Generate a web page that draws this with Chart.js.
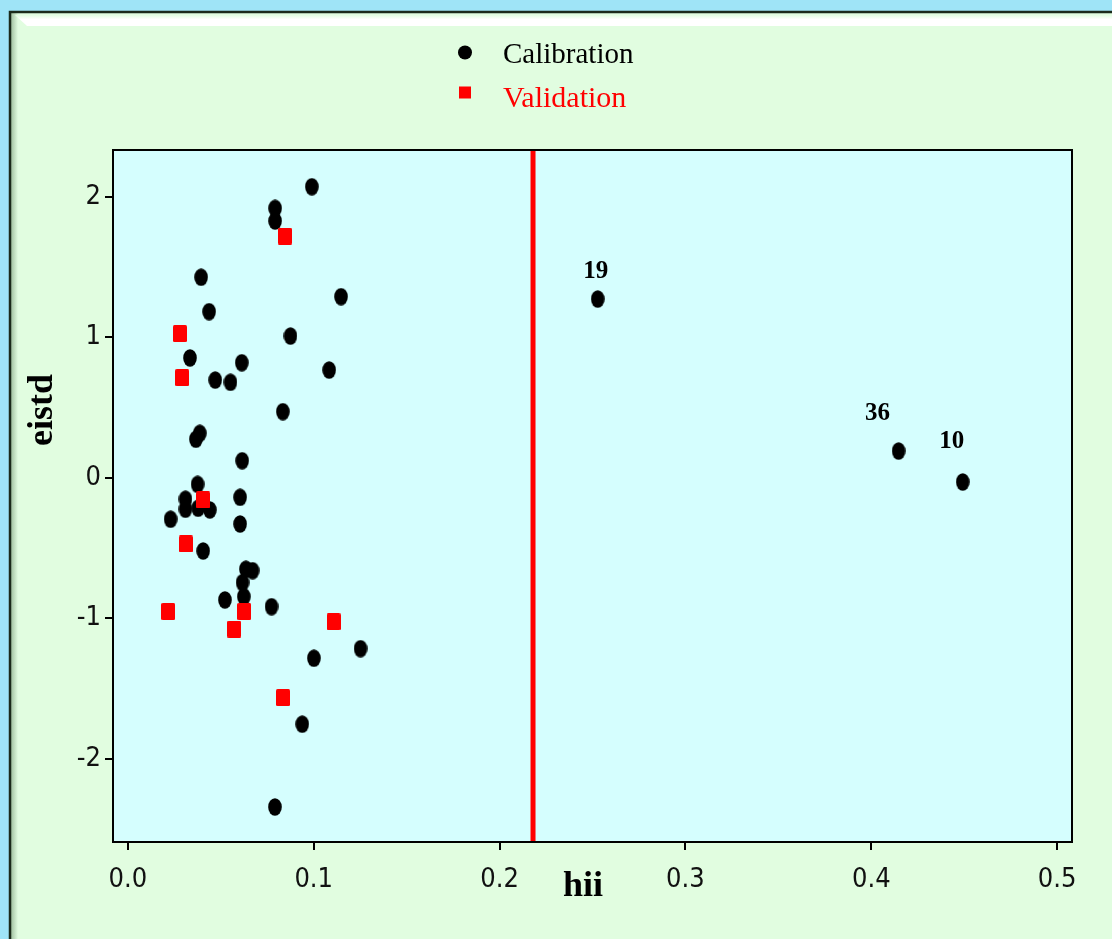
<!DOCTYPE html>
<html><head><meta charset="utf-8">
<script src="https://cdn.jsdelivr.net/npm/chart.js@4.4.1/dist/chart.umd.min.js"></script>
<style>html,body{margin:0;padding:0;background:#9fe4f7;overflow:hidden}canvas{display:block}</style>
</head><body><canvas id="c" width="1112" height="939"></canvas>
<script>
// ---- data ----
const calibX = [0.0990,0.0792,0.0792,0.0394,0.1147,0.0437,0.0875,0.0334,0.0613,0.1083,0.0470,0.0552,0.0834,0.0387,0.0366,0.0615,0.0375,0.0604,0.0310,0.0310,0.0378,0.0441,0.0230,0.0604,0.0405,0.0635,0.0671,0.0617,0.0624,0.0522,0.0773,0.1252,0.1001,0.0938,0.0791,0.2528,0.4147,0.4492];
const calibY = [2.071,1.917,1.827,1.427,1.289,1.182,1.009,0.853,0.819,0.767,0.696,0.680,0.471,0.317,0.275,0.122,-0.046,-0.138,-0.152,-0.223,-0.216,-0.228,-0.294,-0.328,-0.520,-0.650,-0.660,-0.745,-0.845,-0.868,-0.916,-1.215,-1.283,-1.752,-2.341,1.272,0.191,-0.029];
const validX = [0.0845,0.0280,0.0292,0.0405,0.0312,0.0217,0.0626,0.0572,0.1107,0.0835];
const validY = [1.720,1.026,0.713,-0.157,-0.470,-0.950,-0.950,-1.075,-1.023,-1.563];
const outlierLabels = ['19','36','10'];
const outlierIndex = [35,36,37];
const leverageThreshold = 0.218;
const xTickValues = [0,0.1,0.2,0.3,0.4,0.5];
const xTickLabels = ['0.0','0.1','0.2','0.3','0.4','0.5'];
const yTickValues = [2,1,0,-1,-2];
const yTickLabels = ['2','1','0','-1','-2'];
const seriesNames = ['Calibration','Validation'];
const xTitle = 'hii';
const yTitle = 'eistd';
const xRange = [-0.008, 0.508];
const yRange = [-2.59, 2.332];

// ---- marker images ----
function ellipseImg(w,h,color){
  const c=document.createElement('canvas');c.width=w;c.height=h;
  const g=c.getContext('2d');g.fillStyle=color;g.beginPath();
  g.ellipse(w/2,h/2,w/2-0.2,h/2-0.2,0,0,Math.PI*2);g.fill();return c;
}
function squareImg(w,h,color){
  const c=document.createElement('canvas');c.width=w;c.height=h;
  const g=c.getContext('2d');g.fillStyle=color;g.beginPath();
  if(g.roundRect){g.roundRect(0,0,w,h,1.5);}else{g.rect(0,0,w,h);} g.fill();return c;
}
const dotImg = ellipseImg(14,18,'#000000');
const sqImg = squareImg(14,17,'#ff0000');

const serif = "'Liberation Serif','Times New Roman',serif";
const tickFont = "'DejaVu Sans Condensed','DejaVu Sans',sans-serif";

const framePlugin = {
  id:'frame',
  beforeDraw(chart){
    const ctx=chart.ctx, W=chart.width, H=chart.height, a=chart.chartArea;
    ctx.save();
    ctx.fillStyle='#9fe4f7'; ctx.fillRect(0,0,W,H);
    ctx.fillStyle='#e1fde0'; ctx.fillRect(10,12,W-10,H-12);
    // left shade
    const lg=ctx.createLinearGradient(10,0,18,0);
    lg.addColorStop(0,'#98b898'); lg.addColorStop(1,'#e1fde0');
    ctx.fillStyle=lg; ctx.fillRect(10,12,8,H-12);
    // top white bevel
    ctx.beginPath(); ctx.moveTo(15,15); ctx.lineTo(W,15); ctx.lineTo(W,26); ctx.lineTo(27,26); ctx.closePath();
    const tg=ctx.createLinearGradient(0,15,0,26);
    tg.addColorStop(0,'#e1fde0'); tg.addColorStop(0.4,'#ffffff'); tg.addColorStop(1,'#ffffff');
    ctx.fillStyle=tg; ctx.fill();
    // border
    ctx.strokeStyle='#1a2a1a'; ctx.lineWidth=2.5;
    ctx.beginPath(); ctx.moveTo(10,H); ctx.lineTo(10,12); ctx.lineTo(W,12); ctx.stroke();
    // plot background
    ctx.fillStyle='#d5fefe'; ctx.fillRect(a.left,a.top,a.right-a.left,a.bottom-a.top);
    ctx.restore();
  },
  afterDraw(chart){
    const ctx=chart.ctx, a=chart.chartArea, xs=chart.scales.x, ys=chart.scales.y;
    ctx.save();
    ctx.strokeStyle='#000'; ctx.lineWidth=2;
    ctx.strokeRect(a.left,a.top,a.right-a.left,a.bottom-a.top);
    // outlier labels
    const offs=[[-2,-27],[-21,-37],[-11,-40]];
    ctx.fillStyle='#000'; ctx.font='bold 25px '+serif; ctx.textAlign='center'; ctx.textBaseline='middle';
    outlierIndex.forEach((idx,i)=>{
      const px=xs.getPixelForValue(calibX[idx]), py=ys.getPixelForValue(calibY[idx]);
      ctx.fillText(outlierLabels[i], px+offs[i][0], py+offs[i][1]);
    });
    // axis titles
    ctx.font='bold 36px '+serif;
    ctx.fillText(xTitle, 583, 887);
    ctx.save(); ctx.translate(43,410); ctx.rotate(-Math.PI/2); ctx.fillText(yTitle,0,0); ctx.restore();
    // legend
    ctx.fillStyle='#000'; ctx.beginPath(); ctx.arc(465,52.5,7,0,Math.PI*2); ctx.fill();
    ctx.fillStyle='#ff0000'; ctx.fillRect(459,86.5,12,12);
    ctx.textAlign='left'; ctx.textBaseline='alphabetic';
    ctx.font='29px '+serif; ctx.fillStyle='#000'; ctx.fillText(seriesNames[0],503,63);
    ctx.font='30px '+serif; ctx.fillStyle='#ff0000'; ctx.fillText(seriesNames[1],503,107);
    ctx.restore();
  }
};

new Chart(document.getElementById('c'),{
  type:'scatter',
  data:{datasets:[
    {label:seriesNames[1], data:validX.map((x,i)=>({x,y:validY[i]})), pointStyle:sqImg, order:0},
    {label:seriesNames[0], data:calibX.map((x,i)=>({x,y:calibY[i]})), pointStyle:dotImg, order:1},
    {label:'h*', data:[{x:leverageThreshold,y:yRange[0]},{x:leverageThreshold,y:yRange[1]}], showLine:true, borderColor:'#ff0000', borderWidth:5, pointRadius:0, order:2}
  ]},
  options:{
    responsive:false, animation:false,
    layout:{padding:{left:53,right:40,top:150,bottom:37}},
    plugins:{legend:{display:false},tooltip:{enabled:false}},
    scales:{
      x:{type:'linear',min:xRange[0],max:xRange[1],
        afterFit(s){s.height=60;},
        afterBuildTicks(s){s.ticks=xTickValues.map(v=>({value:v}));},
        grid:{display:true,drawOnChartArea:false,drawTicks:true,tickLength:8,color:'#000',lineWidth:2},
        border:{display:true,color:'#000',width:2},
        ticks:{padding:14,color:'#111',font:{family:tickFont,size:27},maxRotation:0,autoSkip:false,
          callback(v){const i=xTickValues.findIndex(t=>Math.abs(t-v)<1e-9);return i>=0?xTickLabels[i]:'';}}
      },
      y:{type:'linear',min:yRange[0],max:yRange[1],
        afterFit(s){s.width=60;},
        afterBuildTicks(s){s.ticks=yTickValues.map(v=>({value:v}));},
        grid:{display:true,drawOnChartArea:false,drawTicks:true,tickLength:8,color:'#000',lineWidth:2},
        border:{display:true,color:'#000',width:2},
        ticks:{padding:4,color:'#111',font:{family:tickFont,size:27},autoSkip:false,
          callback(v){const i=yTickValues.findIndex(t=>Math.abs(t-v)<1e-9);return i>=0?yTickLabels[i]:'';}}
      }
    }
  },
  plugins:[framePlugin]
});
</script>
</body></html>
